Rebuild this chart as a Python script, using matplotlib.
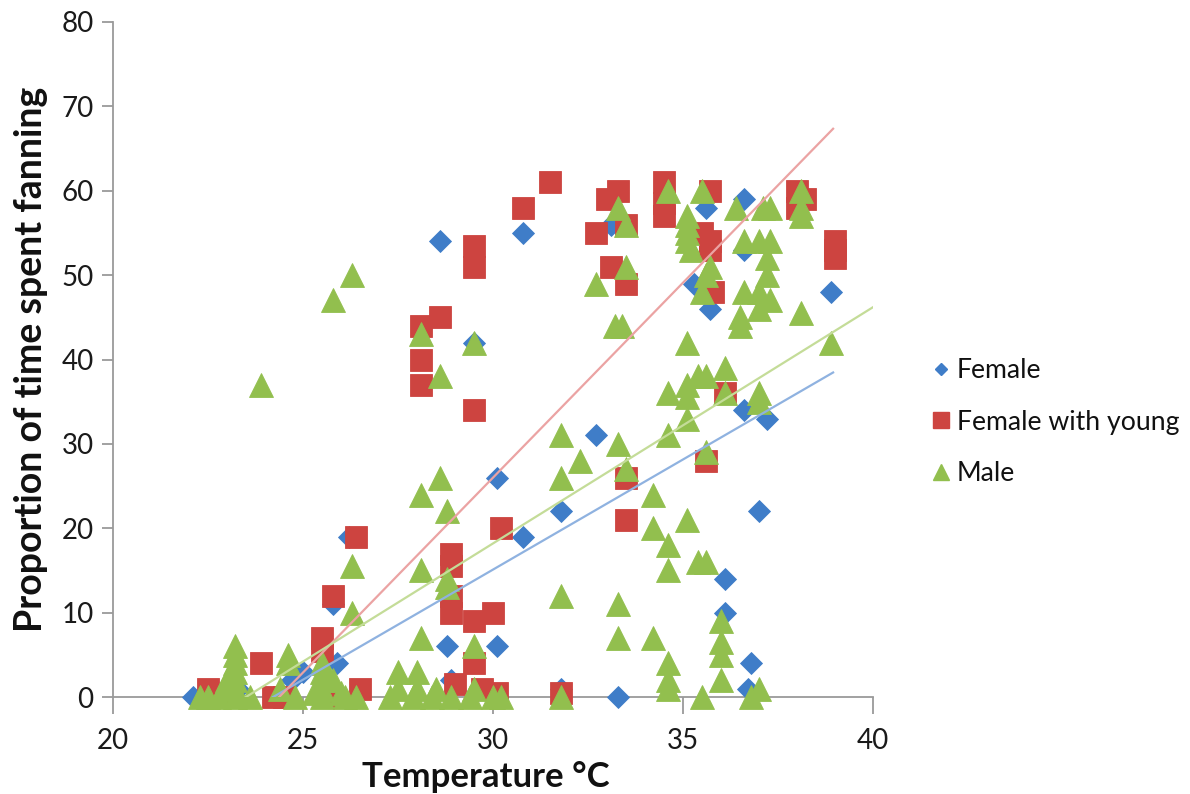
#!/usr/bin/env python3
"""
Proportion of time spent fanning vs temperature, three groups with linear trendlines.
Writes out.png (1190x794).
"""
import matplotlib
matplotlib.use('Agg')
import matplotlib.pyplot as plt
from matplotlib.lines import Line2D
import numpy as np

plt.rcParams['font.family'] = ['Lato', 'DejaVu Sans']

# ---- data (temperature degC, % time fanning) ----
female_x = [22.1, 23.3, 24.7, 25.0, 25.9, 25.8, 26.2, 28.6, 29.5, 30.8, 30.1, 30.8,
            31.8, 32.7, 28.8, 30.1, 28.9, 31.8, 33.3, 33.1, 35.3, 35.6, 35.7, 36.6,
            36.6, 36.6, 37.2, 38.9, 36.1, 36.1, 37.0, 36.8, 36.7]
female_y = [0, 1, 2, 3, 4, 11, 19, 54, 42, 55, 26, 19,
            22, 31, 6, 6, 2, 1, 0, 56, 49, 58, 46, 59,
            53, 34, 33, 48, 14, 10, 22, 4, 1]

fwy_x = [22.5, 22.8, 23.9, 24.2, 24.5, 25.5, 25.5, 25.7, 25.8, 26.4, 26.5, 28.1,
         28.6, 28.1, 28.1, 29.5, 29.5, 29.5, 30.8, 31.5, 28.9, 28.9, 28.9, 28.9,
         29.5, 30.0, 29.5, 29.0, 29.7, 30.1, 30.2, 31.8, 32.7, 33.0, 33.3, 33.5,
         33.1, 33.5, 33.5, 33.5, 34.5, 34.5, 34.5, 35.7, 35.5, 35.7, 35.7, 35.8,
         35.6, 36.1, 38.0, 38.0, 38.2, 39.0, 39.0, 39.0]
fwy_y = [1, 0, 4, 0, 0, 7, 5.5, 0, 12, 19, 1, 44,
         45, 40, 37, 53.5, 51, 34, 58, 61, 17, 15.5, 12, 10,
         9, 10, 4, 1.5, 1, 0.5, 20, 0.5, 55, 59, 60, 56,
         51, 49, 26, 21, 61, 58.5, 57, 60, 55, 54, 53, 48,
         28, 36, 60, 58, 59, 54, 53, 52]

male_x = [23.9, 25.8, 26.3, 28.1, 28.6, 29.5, 33.3, 33.5, 33.5, 32.7, 33.2, 33.4,
          34.6, 35.1, 35.1, 35.1, 35.1, 35.2, 35.5, 35.7, 35.6, 35.5, 36.4, 37.1,
          37.3, 36.6, 37.0, 37.3, 37.2, 37.2, 36.6, 37.0, 37.3, 37.0, 36.5, 36.5,
          38.1, 38.1, 38.1, 38.1, 38.9, 35.1, 34.6, 35.1, 35.1, 35.4, 35.6, 36.1,
          36.1, 37.0, 37.0, 35.1, 34.6, 35.6, 31.8, 33.3, 32.3, 31.8, 33.5, 34.2,
          28.6, 28.1, 28.8, 34.2, 35.1, 34.6, 34.6, 35.4, 35.6, 31.8, 33.3, 33.3,
          34.2, 34.6, 34.6, 34.6, 36.0, 36.0, 36.0, 36.0, 37.0, 36.8, 35.5, 31.8,
          26.3, 26.3, 28.1, 28.1, 28.8, 28.8, 29.5,
          23.2, 23.2, 23.2, 23.2, 23.2, 23.2, 23.2, 22.3, 22.5, 22.8, 23.0, 22.9,
          23.6, 24.6, 24.6, 24.4, 24.8, 25.5, 25.5, 25.5, 25.5, 25.5, 25.3, 25.8,
          26.0, 26.1, 26.4, 27.5, 28.0, 27.5, 28.0, 28.5, 27.3, 27.9, 28.4, 28.9,
          29.4, 29.5, 30.0, 30.2]
male_y = [37, 47, 50, 43, 38, 42, 58, 56, 51, 49, 44, 44,
          60, 57, 56, 55, 54, 53, 60, 51, 50, 48, 58, 58,
          58, 54, 54, 54, 52, 50, 48, 48, 47, 46, 45, 44,
          60, 58, 57, 45.5, 42, 42, 36, 37, 35.5, 38, 38, 39,
          36, 36, 35, 33, 31, 29, 31, 30, 28, 26, 27, 24,
          26, 24, 22, 20, 21, 18, 15, 16, 16, 12, 11, 7,
          7, 4, 2, 1, 9, 6.5, 5, 2, 1, 0, 0, 0,
          15.5, 10, 15, 7, 14, 13, 6,
          6, 5, 4, 3, 2, 1, 0, 0, 0, 0, 2, 1,
          0, 5, 4, 1, 0, 4, 3, 2, 1, 0, 0.5, 2,
          0.5, 0, 0, 3, 3, 1, 1, 1, 0, 0, 0, 0,
          0, 1, 0, 0]

# linear trendlines as drawn in the reference: slope, intercept, x-range
trend_slope = {'female': 2.61, 'fwy': 4.62, 'male': 2.80}
trend_icpt = {'female': -63.2, 'fwy': -112.6, 'male': -65.8}
trend_xrange = {'female': (22.1, 38.95), 'fwy': (22.5, 38.95), 'male': (22.3, 40.0)}

labels = ['Female', 'Female with young', 'Male']

C_BLUE = '#3F7DC8'
C_RED = '#CD4440'
C_GREEN = '#92BF4E'
L_BLUE = '#8FB2E0'
L_RED = '#EBA3A3'
L_GREEN = '#C4DC98'
AXIS_GREY = '#9A9A9A'


def main():
    fig = plt.figure(figsize=(11.9, 7.94), dpi=100)
    ax = fig.add_axes([113 / 1190, 1 - 697 / 794, 760 / 1190, 675 / 794])

    series = [
        ('female', female_x, female_y, 'D', 11.5, C_BLUE, L_BLUE),
        ('fwy', fwy_x, fwy_y, 's', 16.0, C_RED, L_RED),
        ('male', male_x, male_y, '^', 17.0, C_GREEN, L_GREEN),
    ]
    for key, xs, ys, mk, ms, col, _ in series:
        ax.plot(xs, ys, linestyle='none', marker=mk, markersize=ms,
                markerfacecolor=col, markeredgecolor=col, markeredgewidth=0.6,
                clip_on=False, zorder=3)

    # trendlines on top of the markers
    for key, xs, ys, mk, ms, col, lcol in series:
        x0, x1 = trend_xrange[key]
        tx = np.array([x0, x1])
        ty = trend_slope[key] * tx + trend_icpt[key]
        ax.plot(tx, ty, color=lcol, linewidth=1.6, zorder=4)

    ax.set_xlim(20, 40)
    ax.set_ylim(0, 80)
    ax.set_xticks(range(20, 41, 5))
    ax.set_yticks(range(0, 81, 10))

    for side in ('top', 'right'):
        ax.spines[side].set_visible(False)
    for side in ('left', 'bottom'):
        ax.spines[side].set_color(AXIS_GREY)
        ax.spines[side].set_linewidth(1.3)
    ax.tick_params(axis='both', direction='out', color=AXIS_GREY, width=1.3,
                   labelsize=20, labelcolor='#1a1a1a')
    ax.tick_params(axis='x', length=12, pad=10)
    ax.tick_params(axis='y', length=8, pad=6)

    ax.set_xlabel('Temperature °C', fontsize=25, fontweight='bold', color='#111111')
    ax.set_ylabel('Proportion of time spent fanning', fontsize=27, fontweight='bold',
                  color='#111111')
    ax.xaxis.set_label_coords(0.49, -0.095)
    ax.yaxis.set_label_coords(-0.085, 0.5)

    handles = [
        Line2D([], [], linestyle='none', marker='D', markersize=6.5,
               markerfacecolor=C_BLUE, markeredgecolor=C_BLUE),
        Line2D([], [], linestyle='none', marker='s', markersize=11,
               markerfacecolor=C_RED, markeredgecolor=C_RED),
        Line2D([], [], linestyle='none', marker='^', markersize=11,
               markerfacecolor=C_GREEN, markeredgecolor=C_GREEN),
    ]
    fig.legend(handles, labels, loc='upper left', bbox_to_anchor=(0.784, 0.549),
               bbox_transform=fig.transFigure, frameon=False, fontsize=19.2,
               handlelength=0.6, handletextpad=0.3, labelspacing=1.0,
               borderpad=0, borderaxespad=0, labelcolor='#111111')

    fig.savefig('out.png', dpi=100)
    plt.close(fig)


if __name__ == '__main__':
    main()
